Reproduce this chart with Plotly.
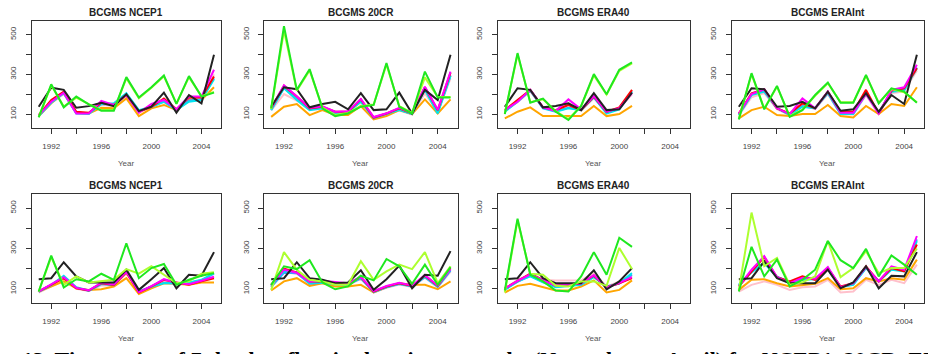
import plotly.graph_objects as go

years = list(range(1991, 2006))
years_era40 = list(range(1991, 2002))

panel_titles = ["BCGMS NCEP1", "BCGMS 20CR", "BCGMS ERA40", "BCGMS ERAInt",
                "BCGMS NCEP1", "BCGMS 20CR", "BCGMS ERA40", "BCGMS ERAInt"]
series_names = ["pink", "orange", "blue", "cyan", "red", "magenta", "black", "greenyellow", "green"]
series_colors = ["#ffc0cb", "#ffa500", "#3b9cff", "#00e5ee", "#ff0000", "#ff00ff", "#222222", "#adff2f", "#1fe81f"]

x_tickvals = [1992, 1994, 1996, 1998, 2000, 2002, 2004]
x_ticktext = ["1992", "", "1996", "", "2000", "", "2004"]
y_tickvals = [100, 200, 300, 400, 500]
y_ticktext = ["100", "", "300", "", "500"]

# ---- Panel 1: NCEP1 (top) ----
p1_black = [137, 233, 222, 132, 140, 157, 140, 200, 115, 137, 208, 107, 196, 154, 399]
p1_green = [83, 250, 134, 188, 149, 117, 117, 286, 183, 235, 294, 151, 291, 188, 208]
p1_greenyellow = [86, 245, 138, 183, 150, 120, 120, 280, 180, 232, 290, 153, 286, 190, 212]
p1_red = [95, 171, 213, 112, 107, 157, 146, 196, 112, 137, 179, 124, 184, 184, 289]
p1_magenta = [95, 162, 208, 103, 103, 166, 146, 196, 107, 151, 171, 124, 188, 188, 323]
p1_cyan = [90, 157, 205, 103, 100, 151, 154, 205, 120, 137, 162, 120, 162, 171, 276]
p1_blue = [92, 160, 207, 106, 104, 150, 150, 200, 115, 135, 165, 122, 168, 175, 280]
p1_pink = [88, 155, 200, 108, 102, 148, 140, 190, 105, 140, 160, 118, 170, 178, 300]
p1_orange = [90, 154, 208, 107, 103, 132, 129, 179, 90, 129, 146, 120, 174, 171, 235]

# ---- Panel 2: 20CR (top) ----
p2_black = [137, 235, 225, 134, 151, 162, 124, 205, 120, 124, 208, 103, 222, 171, 399]
p2_green = [129, 542, 222, 326, 129, 90, 103, 137, 146, 357, 137, 103, 314, 184, 184]
p2_greenyellow = [125, 520, 218, 320, 132, 95, 106, 140, 148, 350, 140, 106, 285, 186, 186]
p2_red = [129, 242, 188, 129, 137, 112, 112, 174, 83, 103, 129, 103, 235, 120, 309]
p2_magenta = [131, 245, 190, 131, 139, 112, 114, 176, 85, 104, 131, 104, 238, 122, 314]
p2_cyan = [120, 230, 171, 120, 129, 95, 112, 162, 83, 103, 120, 100, 222, 103, 292]
p2_blue = [122, 232, 175, 125, 131, 100, 110, 165, 80, 100, 125, 102, 225, 108, 295]
p2_pink = [118, 201, 168, 122, 126, 105, 108, 160, 78, 98, 118, 98, 205, 110, 280]
p2_orange = [86, 137, 151, 95, 120, 95, 95, 141, 73, 90, 120, 100, 174, 103, 174]

# ---- Panel 3: ERA40 (top) ----
p3_black = [137, 230, 222, 134, 141, 154, 120, 205, 120, 124, 208]
p3_green = [100, 407, 157, 178, 112, 70, 141, 301, 200, 323, 360]
p3_greenyellow = [103, 400, 160, 175, 115, 75, 140, 295, 198, 318, 355]
p3_red = [120, 171, 222, 134, 120, 146, 120, 188, 112, 134, 222]
p3_magenta = [120, 162, 222, 134, 115, 174, 124, 191, 112, 129, 205]
p3_cyan = [112, 162, 218, 129, 112, 129, 120, 184, 103, 124, 213]
p3_blue = [115, 165, 220, 131, 114, 132, 122, 186, 106, 127, 215]
p3_pink = [118, 160, 215, 130, 118, 155, 118, 180, 108, 130, 200]
p3_orange = [78, 112, 134, 90, 90, 90, 90, 141, 90, 100, 141]

# ---- Panel 4: ERAInt (top) ----
p4_black = [137, 230, 225, 137, 141, 162, 129, 213, 117, 124, 205, 112, 196, 151, 399]
p4_green = [73, 306, 124, 242, 86, 120, 196, 259, 157, 157, 297, 154, 230, 213, 157]
p4_greenyellow = [76, 300, 128, 238, 90, 122, 192, 255, 160, 160, 292, 157, 226, 210, 160]
p4_red = [103, 205, 225, 129, 103, 154, 129, 213, 112, 112, 222, 103, 218, 230, 331]
p4_magenta = [103, 201, 225, 129, 100, 179, 129, 213, 107, 107, 201, 103, 222, 235, 348]
p4_cyan = [95, 196, 213, 129, 95, 137, 129, 205, 100, 100, 201, 107, 213, 218, 331]
p4_blue = [98, 198, 215, 131, 97, 140, 131, 207, 103, 103, 205, 105, 215, 222, 335]
p4_pink = [92, 185, 205, 125, 95, 150, 125, 200, 98, 98, 195, 100, 205, 215, 320]
p4_orange = [78, 120, 137, 95, 90, 100, 100, 146, 90, 83, 141, 100, 151, 141, 235]

# ---- Panel 5: NCEP1 (bottom) ----
p5_black = [148, 153, 232, 162, 132, 132, 132, 195, 95, 148, 203, 103, 170, 165, 282]
p5_green = [87, 265, 107, 148, 137, 175, 145, 325, 153, 203, 223, 120, 145, 165, 178]
p5_greenyellow = [87, 258, 120, 162, 132, 137, 145, 198, 175, 212, 170, 128, 137, 175, 182]
p5_red = [87, 120, 153, 103, 92, 128, 120, 182, 82, 112, 145, 132, 120, 137, 153]
p5_magenta = [88, 122, 158, 105, 93, 130, 122, 186, 84, 114, 148, 130, 123, 140, 160]
p5_cyan = [87, 120, 165, 108, 92, 125, 120, 187, 87, 112, 128, 128, 132, 145, 178]
p5_blue = [85, 118, 160, 106, 90, 124, 118, 184, 86, 110, 130, 126, 130, 143, 175]
p5_pink = [82, 112, 148, 100, 90, 118, 115, 175, 80, 105, 140, 125, 125, 140, 158]
p5_orange = [87, 112, 137, 103, 95, 98, 112, 153, 75, 103, 128, 125, 120, 132, 132]

# ---- Panel 6: 20CR (bottom) ----
p6_black = [148, 153, 232, 153, 145, 128, 132, 192, 95, 148, 215, 103, 170, 165, 287]
p6_green = [120, 212, 198, 242, 132, 98, 112, 165, 142, 248, 212, 125, 220, 120, 208]
p6_greenyellow = [95, 282, 195, 145, 137, 120, 120, 237, 145, 187, 220, 198, 282, 128, 212]
p6_red = [120, 200, 182, 137, 137, 128, 125, 158, 87, 112, 128, 115, 165, 115, 203]
p6_magenta = [118, 195, 180, 135, 140, 135, 128, 160, 89, 114, 130, 117, 168, 117, 198]
p6_cyan = [112, 187, 182, 128, 132, 125, 122, 155, 85, 110, 125, 113, 160, 112, 195]
p6_blue = [110, 180, 178, 126, 130, 122, 120, 152, 84, 108, 124, 112, 158, 110, 190]
p6_pink = [108, 185, 175, 132, 128, 120, 118, 150, 82, 105, 122, 110, 155, 108, 185]
p6_orange = [92, 137, 153, 115, 128, 112, 112, 120, 82, 108, 128, 120, 120, 98, 137]

# ---- Panel 7: ERA40 (bottom) ----
p7_black = [148, 153, 232, 153, 128, 128, 128, 192, 98, 137, 203]
p7_green = [92, 448, 170, 137, 92, 87, 162, 282, 170, 353, 308]
p7_greenyellow = [82, 440, 175, 170, 115, 112, 137, 137, 115, 303, 198]
p7_red = [103, 137, 175, 145, 115, 120, 128, 165, 108, 128, 153]
p7_magenta = [102, 140, 172, 142, 116, 122, 126, 168, 106, 130, 158]
p7_cyan = [95, 137, 162, 132, 108, 115, 120, 158, 112, 128, 178]
p7_blue = [98, 135, 165, 135, 110, 117, 122, 160, 110, 126, 170]
p7_pink = [100, 145, 170, 145, 142, 142, 142, 178, 112, 135, 165]
p7_orange = [82, 115, 125, 108, 92, 92, 112, 142, 82, 95, 142]

# ---- Panel 8: ERAInt (bottom) ----
p8_black = [148, 153, 237, 153, 128, 128, 128, 195, 103, 132, 212, 103, 165, 162, 282]
p8_green = [87, 308, 162, 245, 112, 145, 195, 337, 242, 203, 298, 162, 265, 220, 170]
p8_greenyellow = [92, 478, 212, 253, 120, 132, 162, 337, 158, 203, 287, 178, 203, 203, 300]
p8_red = [112, 187, 258, 158, 137, 162, 145, 203, 112, 128, 212, 137, 203, 187, 320]
p8_magenta = [112, 195, 262, 158, 128, 155, 150, 208, 108, 128, 208, 137, 212, 195, 362]
p8_cyan = [120, 182, 228, 158, 132, 145, 148, 198, 108, 120, 203, 137, 195, 187, 337]
p8_blue = [118, 185, 232, 160, 134, 148, 150, 200, 110, 122, 205, 139, 198, 190, 345]
p8_pink = [87, 120, 137, 120, 95, 108, 112, 145, 82, 87, 145, 120, 145, 128, 220]
p8_orange = [95, 145, 148, 128, 112, 120, 125, 153, 98, 103, 153, 137, 153, 145, 245]

caption = ("13. Time series of 7-day low flow in the winter months (November to April) "
           "for NCEP1, 20CR, ERA40 and ERAInt")

panel_data = [
    (years, [p1_pink, p1_orange, p1_blue, p1_cyan, p1_red, p1_magenta, p1_black, p1_greenyellow, p1_green]),
    (years, [p2_pink, p2_orange, p2_blue, p2_cyan, p2_red, p2_magenta, p2_black, p2_greenyellow, p2_green]),
    (years_era40, [p3_pink, p3_orange, p3_blue, p3_cyan, p3_red, p3_magenta, p3_black, p3_greenyellow, p3_green]),
    (years, [p4_pink, p4_orange, p4_blue, p4_cyan, p4_red, p4_magenta, p4_black, p4_greenyellow, p4_green]),
    (years, [p5_pink, p5_orange, p5_blue, p5_cyan, p5_red, p5_magenta, p5_black, p5_greenyellow, p5_green]),
    (years, [p6_pink, p6_orange, p6_blue, p6_cyan, p6_red, p6_magenta, p6_black, p6_greenyellow, p6_green]),
    (years_era40, [p7_pink, p7_orange, p7_blue, p7_cyan, p7_red, p7_magenta, p7_black, p7_greenyellow, p7_green]),
    (years, [p8_pink, p8_orange, p8_blue, p8_cyan, p8_red, p8_magenta, p8_black, p8_greenyellow, p8_green]),
]

W, H = 928, 354
col_px = [(31.7, 221.0), (264.0, 457.7), (497.7, 690.0), (731.7, 924.0)]
row_px = [(20.7, 128.0), (194.0, 303.0)]
title_y_px = [12.0, 185.0]
year_y_px = [163.0, 338.0]

fig = go.Figure()
layout_axes = {}
annotations = []
for i, (xs, ys_list) in enumerate(panel_data):
    r, c = divmod(i, 4)
    n = i + 1
    xa = "x" if n == 1 else f"x{n}"
    ya = "y" if n == 1 else f"y{n}"
    for name, color, ys in zip(series_names, series_colors, ys_list):
        fig.add_trace(go.Scatter(x=xs, y=ys, mode="lines", name=name,
                                 line=dict(color=color, width=2),
                                 xaxis=xa, yaxis=ya, showlegend=False, hoverinfo="skip"))
    x0, x1 = col_px[c]
    t0, t1 = row_px[r]
    common = dict(showline=True, mirror=True, linecolor="#333333", linewidth=1.2,
                  showgrid=False, zeroline=False, ticks="outside", ticklen=5,
                  tickwidth=1, tickcolor="#333333",
                  tickfont=dict(family="Liberation Sans", size=8, color="#444444"))
    layout_axes["xaxis" if n == 1 else f"xaxis{n}"] = dict(
        domain=[x0 / W, x1 / W], anchor=ya, range=[1990.44, 2005.56],
        tickvals=x_tickvals, ticktext=x_ticktext, ticklabelstandoff=5, **common)
    layout_axes["yaxis" if n == 1 else f"yaxis{n}"] = dict(
        domain=[1 - t1 / H, 1 - t0 / H], anchor=xa, range=[30, 570],
        tickvals=y_tickvals, ticktext=y_ticktext, tickangle=-90,
        ticklabelstandoff=6, **common)
    annotations.append(dict(text="<b>" + panel_titles[i] + "</b>", xref="paper", yref="paper",
                            x=(x0 + x1) / 2 / W, y=1 - title_y_px[r] / H,
                            xanchor="center", yanchor="middle", showarrow=False,
                            font=dict(family="Liberation Sans", size=10, color="#222222")))
    annotations.append(dict(text="Year", xref="paper", yref="paper",
                            x=(x0 + x1) / 2 / W, y=1 - year_y_px[r] / H,
                            xanchor="center", yanchor="middle", showarrow=False,
                            font=dict(family="Liberation Sans", size=8, color="#555555")))

annotations.append(dict(text="<b>" + caption + "</b>", xref="paper", yref="paper",
                        x=20 / W, y=1 - 345 / H, xanchor="left", yanchor="top",
                        showarrow=False,
                        font=dict(family="Liberation Serif", size=22, color="#000000")))

fig.update_layout(width=W, height=H, margin=dict(l=0, r=0, t=0, b=0),
                  paper_bgcolor="white", plot_bgcolor="white",
                  annotations=annotations, showlegend=False, **layout_axes)
fig.write_html("out.html")
